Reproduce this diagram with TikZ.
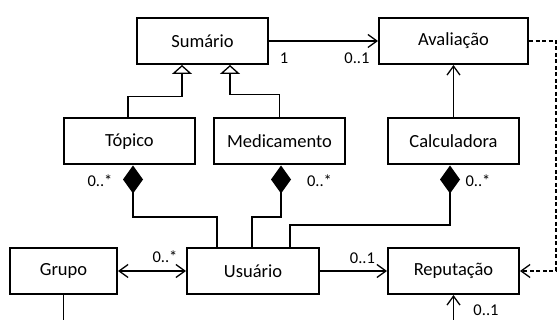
\documentclass[tikz,border=0pt]{standalone}
\usepackage{fontspec}
\setmainfont{Carlito}
\usetikzlibrary{arrows.meta}
\begin{document}
\begin{tikzpicture}[x=1pt,y=-1pt,
  cls/.style={draw, line width=2pt, minimum height=46pt, inner sep=0pt, font=\fontsize{18.5}{22}\selectfont},
  lbl/.style={inner sep=0pt, font=\fontsize{16.5}{20}\selectfont},
  conn/.style={line width=1.3pt},
  assoc/.style={conn, -{Straight Barb[length=9pt,width=13pt,line width=1.3pt]}},
  biassoc/.style={conn, {Straight Barb[length=9pt,width=13pt,line width=1.3pt]}-{Straight Barb[length=9pt,width=13pt,line width=1.3pt]}},
  gen/.style={conn, -{Triangle[open,length=9pt,width=20pt,fill=white,line width=1.3pt]}},
  comp/.style={conn, -{Diamond[length=28pt,width=20pt,fill=black]}},
  dep/.style={assoc, dash pattern=on 4pt off 2.5pt}
]
\useasboundingbox (0,0) rectangle (557,320);
\node[cls, minimum width=131pt] (sum) at (202.5,41) {Sumário};
\node[cls, minimum width=149pt] (ava) at (453.5,41) {Avaliação};
\node[cls, minimum width=131pt] (top) at (129.5,141.5) {Tópico};
\node[cls, minimum width=131pt] (med) at (279.5,141.5) {Medicamento};
\node[cls, minimum width=131pt] (cal) at (453.5,141.5) {Calculadora};
\node[cls, minimum width=107pt] (gru) at (63.5,271) {Grupo};
\node[cls, minimum width=132pt] (usu) at (253,271) {Usuário};
\node[cls, minimum width=131pt] (rep) at (453.5,271) {Reputação};
\coordinate (repin) at (453.5,320);
\coordinate (gruout) at (63.5,320);

\draw[assoc] (sum.east) -- (ava.west);
\draw[gen] ([xshift=-1.5pt]top.north) -- ++(0,-21) -| ([xshift=-20.5pt]sum.south);
\draw[gen] (med.north) -- ++(0,-23) -| ([xshift=27.5pt]sum.south);
\draw[assoc] (cal.north) -- (ava.south);
\draw[dep] (ava.east) -- ++(27,0) |- (rep.east);
\draw[comp] ([xshift=-36pt]usu.north) -- ++(0,-30) -| ([xshift=3.5pt]top.south);
\draw[comp] ([xshift=-1pt]usu.north) -- ++(0,-30) -| ([xshift=1.5pt]med.south);
\draw[comp] ([xshift=37pt]usu.north) -- ++(0,-22) -| ([xshift=-3.5pt]cal.south);
\draw[biassoc] (gru.east) -- (usu.west);
\draw[assoc] (usu.east) -- (rep.west);
\draw[assoc] (repin) -- (rep.south);
\draw[conn] (gru.south) -- (gruout);

\node[lbl] (l1) at (284,58) {1};
\node[lbl] (l2) at (357,58) {0..1};
\node[lbl] (l3) at (100,181) {0..*};
\node[lbl] (l4) at (319.5,181) {0..*};
\node[lbl] (l5) at (478,181) {0..*};
\node[lbl] (l6) at (165,257) {0..*};
\node[lbl] (l7) at (362.5,258) {0..1};
\node[lbl] (l8) at (486,310) {0..1};
\end{tikzpicture}
\end{document}
